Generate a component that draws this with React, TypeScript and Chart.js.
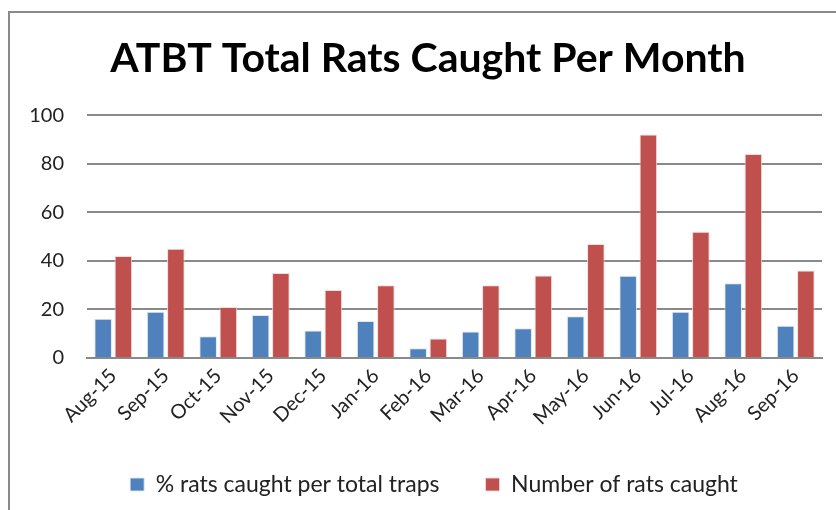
import React, { useEffect, useRef } from "react";
import { Chart, registerables } from "chart.js";

Chart.register(...registerables);

const months = ["Aug-15", "Sep-15", "Oct-15", "Nov-15", "Dec-15", "Jan-16", "Feb-16", "Mar-16", "Apr-16", "May-16", "Jun-16", "Jul-16", "Aug-16", "Sep-16"];
const pctRatsPerTraps = [16.2, 19.1, 9.0, 17.7, 11.3, 15.2, 4.0, 10.9, 12.3, 17.2, 33.9, 19.1, 30.8, 13.3];
const numberOfRats = [42, 45, 21, 35, 28, 30, 8, 30, 34, 47, 92, 52, 84, 36];
const yTicks = [0, 20, 40, 60, 80, 100];

const FONT = "Lato, 'Open Sans', sans-serif";

const shiftPlugin = {
  id: "shiftBlocks",
  afterLayout(chart: any) {
    const lg = chart.legend;
    if (lg) {
      lg.left += 19;
      lg.right += 19;
    }
    const t = chart.titleBlock;
    if (t) {
      t.left += 13;
      t.right += 13;
    }
  },
};

export default function App() {
  const ref = useRef<HTMLCanvasElement | null>(null);

  useEffect(() => {
    if (!ref.current) return;
    const chart = new Chart(ref.current, {
      type: "bar",
      data: {
        labels: months,
        datasets: [
          {
            label: "% rats caught per total traps",
            data: pctRatsPerTraps,
            backgroundColor: "#4F81BD",
            borderColor: "rgba(220,230,245,0.9)",
            borderWidth: 1,
            categoryPercentage: 0.77,
            barPercentage: 0.87,
          },
          {
            label: "Number of rats caught",
            data: numberOfRats,
            backgroundColor: "#C0504D",
            borderColor: "rgba(245,215,215,0.9)",
            borderWidth: 1,
            categoryPercentage: 0.77,
            barPercentage: 0.87,
          },
        ],
      },
      plugins: [shiftPlugin],
      options: {
        responsive: false,
        animation: false,
        layout: { padding: { left: 8, right: 14, top: 0, bottom: 4 } },
        plugins: {
          title: {
            display: true,
            text: "ATBT Total Rats Caught Per Month",
            color: "#000",
            font: { family: FONT, size: 41, weight: "bold", lineHeight: 1.2 },
            padding: { top: 34, bottom: 32 },
          },
          legend: {
            position: "bottom",
            labels: {
              boxWidth: 14,
              boxHeight: 13,
              padding: 46,
              color: "#222",
              font: { family: FONT, size: 23 },
            },
          },
          tooltip: { enabled: false },
        },
        scales: {
          x: {
            grid: { display: false, drawTicks: false },
            border: { display: true, color: "#898989", width: 2 },
            ticks: {
              color: "#222",
              font: { family: FONT, size: 20 },
              maxRotation: 45,
              minRotation: 45,
              padding: 6,
              autoSkip: false,
            },
            afterFit: (s: any) => {
              s.height = 69;
            },
          },
          y: {
            min: 0,
            max: 100,
            afterBuildTicks: (s: any) => {
              s.ticks = yTicks.map((v) => ({ value: v }));
            },
            grid: { color: "#898989", lineWidth: 2, drawTicks: false },
            border: { display: false },
            ticks: {
              color: "#222",
              font: { family: FONT, size: 20 },
              padding: 23,
            },
            afterFit: (s: any) => {
              s.width = 79;
            },
          },
        },
      },
    });
    return () => chart.destroy();
  }, []);

  return (
    <div style={{ position: "fixed", left: 0, top: 0, width: 836, height: 510, overflow: "hidden", background: "#fff" }}>
      <div
        style={{
          position: "absolute",
          left: 8,
          top: 11,
          width: 900,
          height: 600,
          borderTop: "2px solid #8a8a8a",
          borderLeft: "2px solid #8a8a8a",
        }}
      />
      <canvas ref={ref} width={836} height={510} style={{ position: "absolute", left: 0, top: 0 }} />
    </div>
  );
}
